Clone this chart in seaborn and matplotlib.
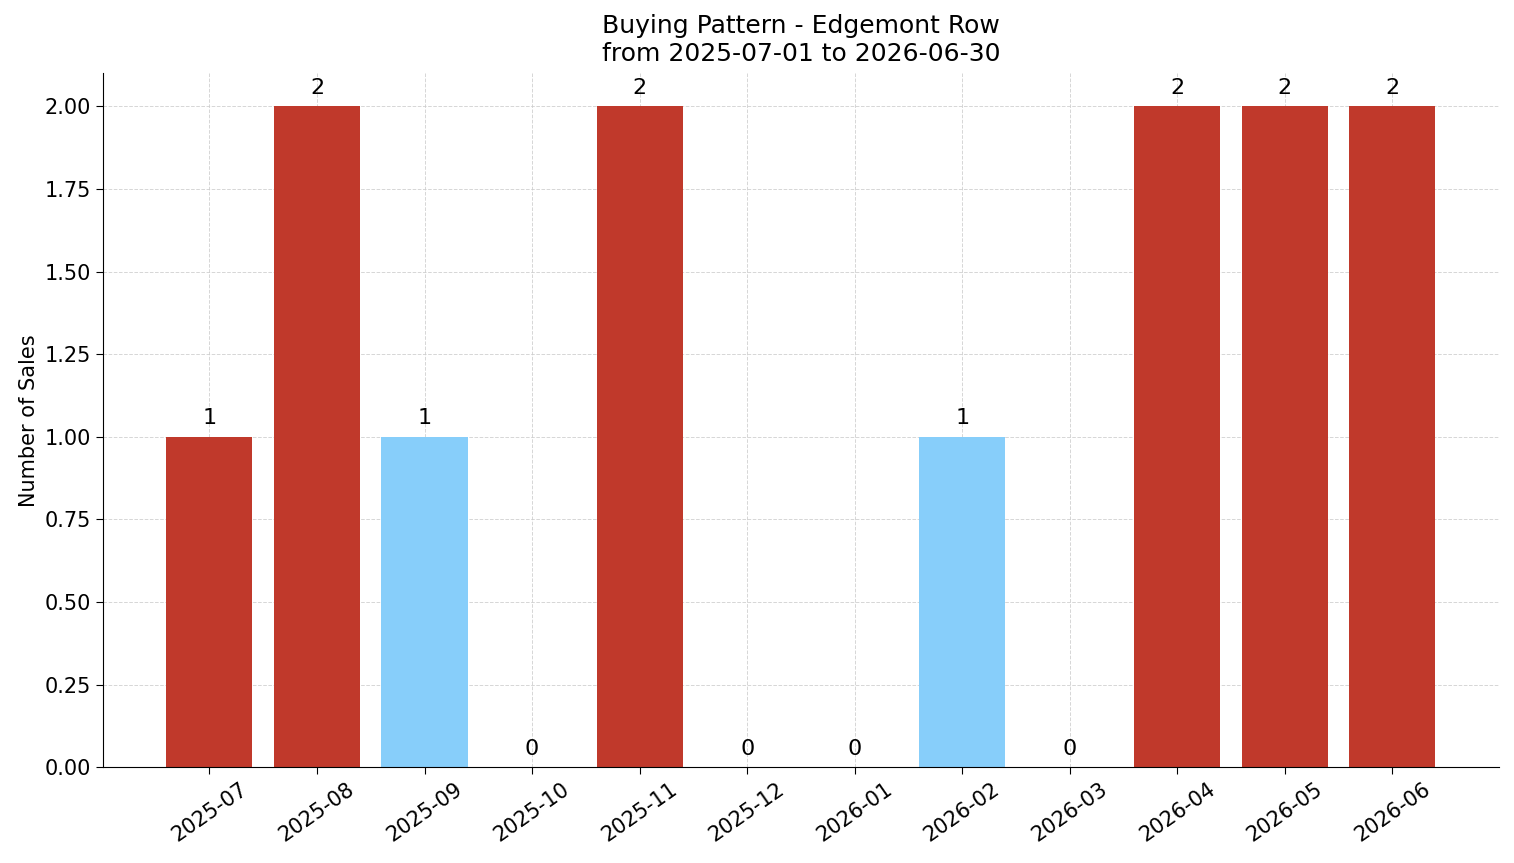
import matplotlib
matplotlib.use('Agg')
import matplotlib.pyplot as plt
import seaborn as sns

months = ['2025-07', '2025-08', '2025-09', '2025-10', '2025-11', '2025-12',
          '2026-01', '2026-02', '2026-03', '2026-04', '2026-05', '2026-06']
sales = [1, 2, 1, 0, 2, 0, 0, 1, 0, 2, 2, 2]
bar_colors = ['#c0392b', '#c0392b', '#87cefa', '#c0392b', '#c0392b', '#c0392b',
              '#c0392b', '#87cefa', '#c0392b', '#c0392b', '#c0392b', '#c0392b']

sns.set_style('white')
plt.rcParams.update({'text.color': 'black', 'axes.labelcolor': 'black',
                     'xtick.color': 'black', 'ytick.color': 'black',
                     'axes.edgecolor': 'black'})
fig, ax = plt.subplots(figsize=(15.14, 8.63), dpi=100)

sns.barplot(x=months, y=sales, hue=months, palette=bar_colors, legend=False,
            width=0.8, saturation=1, linewidth=0, ax=ax)

for c in ax.containers:
    ax.bar_label(c, padding=6, fontsize=16, color='black')

ax.set_title('Buying Pattern - Edgemont Row\nfrom 2025-07-01 to 2026-06-30',
             fontsize=18, pad=9)
ax.set_ylabel('Number of Sales', fontsize=15)
ax.set_xlabel('')
ax.set_xlim(-0.99, 11.99)
ax.set_ylim(0, 2.1)
ax.set_yticks([0, 0.25, 0.5, 0.75, 1.0, 1.25, 1.5, 1.75, 2.0])
ax.set_yticklabels([f'{v:.2f}' for v in ax.get_yticks()])
ax.tick_params(axis='both', labelsize=15, length=5, left=True, bottom=True)
ax.tick_params(axis='x', rotation=35)
ax.grid(True, linestyle='--', color='#cccccc', linewidth=0.7, alpha=0.8)
ax.set_axisbelow(True)
sns.despine(ax=ax)

fig.subplots_adjust(left=0.068, right=0.99, top=0.915, bottom=0.111)
fig.savefig('out.png', dpi=100)
